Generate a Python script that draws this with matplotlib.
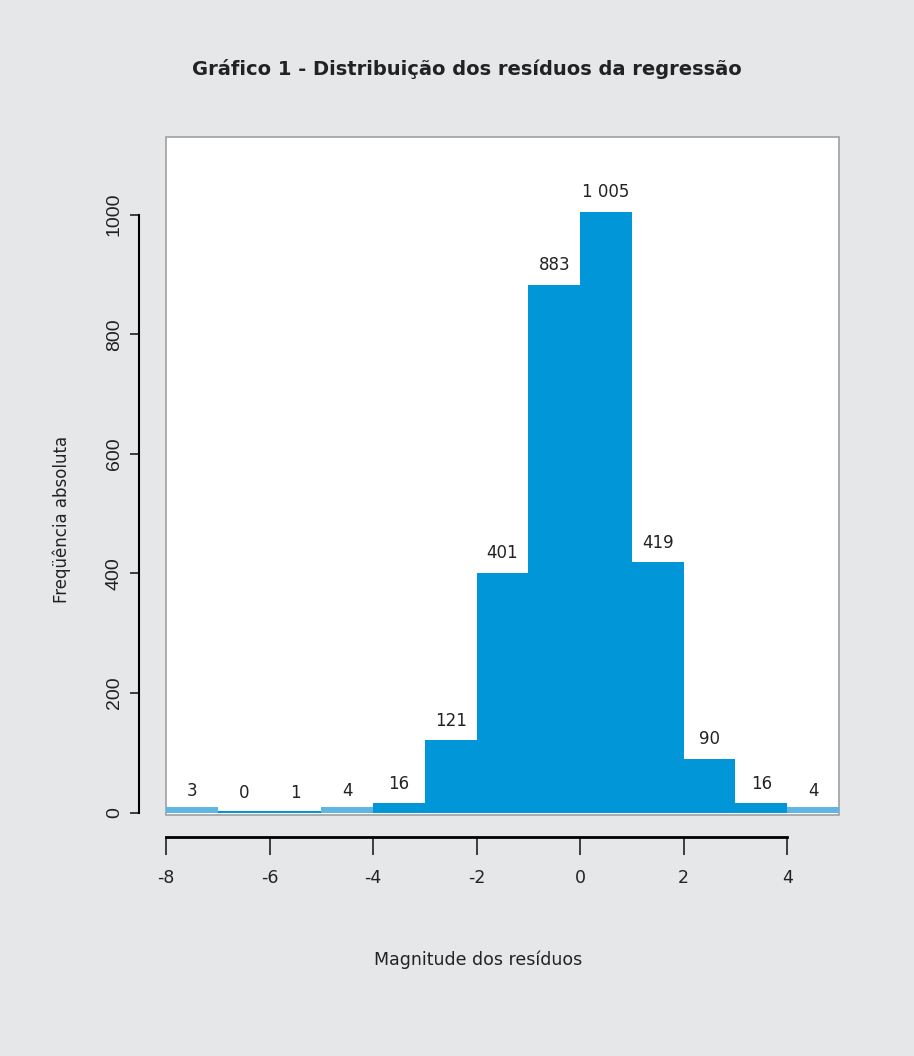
import matplotlib.pyplot as plt
from matplotlib.patches import Rectangle
import numpy as np

plt.rcParams['font.family'] = ['DejaVu Sans']
plt.rcParams['hatch.color'] = '#1f5f8a'
plt.rcParams['hatch.linewidth'] = 1.5

# histogram bins (left edges, width 1) and counts
bin_left = [-8, -7, -6, -5, -4, -3, -2, -1, 0, 1, 2, 3, 4]
counts = [3, 0, 1, 4, 16, 121, 401, 883, 1005, 419, 90, 16, 4]
count_labels = ['3', '0', '1', '4', '16', '121', '401', '883', '1 005', '419', '90', '16', '4']
x_ticks = [-8, -6, -4, -2, 0, 2, 4]
y_ticks = [0, 200, 400, 600, 800, 1000]

bg = '#e6e7e9'
blue = '#0096d8'
txt = '#222222'

fig = plt.figure(figsize=(9.14, 10.56), dpi=100, facecolor=bg)
ax = fig.add_axes([166/914, 1 - 815/1056, 673/914, 678/1056])
ax.set_facecolor('none')

# white plot box
ax.add_patch(Rectangle((0, 0), 1, 1, transform=ax.transAxes, facecolor='white',
                       edgecolor='#a0a0a0', lw=1.2, zorder=0, clip_on=False))

for x, c, lab in zip(bin_left, counts, count_labels):
    if c in (3, 4):
        # tiny counts drawn as a hatched strip, as in the original
        ax.bar(x, 9, width=1, align='edge', color='#5fb6e2', edgecolor='none',
               hatch='//', zorder=2)
    else:
        ax.bar(x, max(c, 3), width=1, align='edge', color=blue, edgecolor='none', zorder=2)
    ax.annotate(lab, (x + 0.5, c), xytext=(0, 14), textcoords='offset points',
                ha='center', va='center', fontsize=12, color=txt)

ax.set_xlim(-8, 5)
ax.set_ylim(-4, 1130)

for s in ['top', 'right']:
    ax.spines[s].set_visible(False)
ax.spines['left'].set_position(('outward', 19.5))
ax.spines['left'].set_bounds(0, 1000)
ax.spines['left'].set_linewidth(1.5)
ax.spines['bottom'].set_position(('outward', 16))
ax.spines['bottom'].set_bounds(-8, 4)
ax.spines['bottom'].set_linewidth(2)

ax.set_xticks(x_ticks)
ax.set_xticklabels([str(t) for t in x_ticks])
ax.set_yticks(y_ticks)
ax.set_yticklabels([str(t) for t in y_ticks], rotation=90, va='center',
                   family=['Liberation Sans Narrow', 'Liberation Sans'], fontsize=14)
ax.tick_params(axis='x', length=13, width=1.2, pad=10, labelsize=12.5, colors=txt)
ax.tick_params(axis='y', length=6.5, width=1.2, pad=5, colors=txt)

fig.text(467/914, 1 - 69/1056, 'Gráfico 1 - Distribuição dos resíduos da regressão',
         ha='center', va='center', fontsize=14, fontweight='bold', color=txt)
fig.text(478/914, 1 - 960/1056, 'Magnitude dos resíduos', ha='center', va='center',
         fontsize=12.5, color=txt)
fig.text(62/914, 1 - 519/1056, 'Freqüência absoluta', ha='center', va='center',
         rotation=90, fontsize=12, color=txt)

fig.savefig('out.png', dpi=100, facecolor=bg)
